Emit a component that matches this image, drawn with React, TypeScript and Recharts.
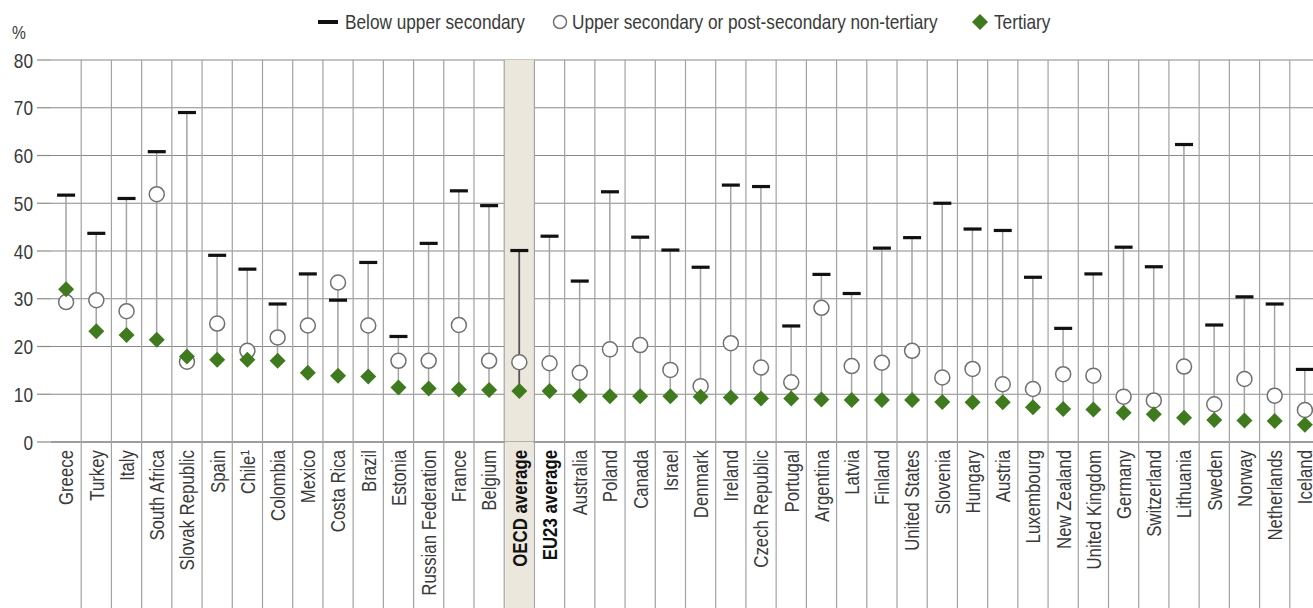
import React from 'react'
import {
  ComposedChart,
  Bar,
  Scatter,
  XAxis,
  YAxis,
  CartesianGrid,
  ReferenceArea,
} from 'recharts'

const categories = [
  'Greece', 'Turkey', 'Italy', 'South Africa', 'Slovak Republic', 'Spain', 'Chile\u00b9',
  'Colombia', 'Mexico', 'Costa Rica', 'Brazil', 'Estonia', 'Russian Federation', 'France',
  'Belgium', 'OECD average', 'EU23 average', 'Australia', 'Poland', 'Canada', 'Israel',
  'Denmark', 'Ireland', 'Czech Republic', 'Portugal', 'Argentina', 'Latvia', 'Finland',
  'United States', 'Slovenia', 'Hungary', 'Austria', 'Luxembourg', 'New Zealand',
  'United Kingdom', 'Germany', 'Switzerland', 'Lithuania', 'Sweden', 'Norway',
  'Netherlands', 'Iceland',
]

const belowUpperSecondary = [
  51.7, 43.7, 51.0, 60.8, 69.0, 39.1, 36.2, 28.9, 35.2, 29.7, 37.6, 22.1, 41.6, 52.6,
  49.5, 40.1, 43.1, 33.7, 52.4, 42.9, 40.2, 36.6, 53.8, 53.5, 24.3, 35.1, 31.1, 40.6,
  42.8, 50.0, 44.6, 44.3, 34.5, 23.8, 35.2, 40.8, 36.7, 62.3, 24.5, 30.4, 28.9, 15.2,
]

const upperSecondary = [
  29.3, 29.7, 27.4, 51.9, 16.8, 24.8, 19.1, 21.9, 24.4, 33.4, 24.4, 17.0, 17.0, 24.5,
  17.0, 16.7, 16.5, 14.5, 19.4, 20.3, 15.1, 11.7, 20.7, 15.6, 12.5, 28.1, 15.9, 16.6,
  19.1, 13.5, 15.3, 12.1, 11.1, 14.2, 13.9, 9.5, 8.7, 15.8, 7.9, 13.2, 9.7, 6.7,
]

const tertiary = [
  32.0, 23.2, 22.4, 21.4, 17.9, 17.2, 17.2, 17.0, 14.5, 13.9, 13.7, 11.4, 11.2, 11.0,
  10.9, 10.7, 10.7, 9.7, 9.6, 9.6, 9.6, 9.5, 9.3, 9.1, 9.1, 8.9, 8.8, 8.8,
  8.8, 8.4, 8.3, 8.3, 7.3, 6.9, 6.8, 6.1, 5.8, 5.1, 4.6, 4.5, 4.4, 3.6,
]

const yTicks = [0, 10, 20, 30, 40, 50, 60, 70, 80]
const highlighted = ['OECD average', 'EU23 average']

const data = categories.map((name, i) => {
  const vals = [belowUpperSecondary[i], upperSecondary[i], tertiary[i]]
  return {
    name,
    below: belowUpperSecondary[i],
    upper: upperSecondary[i],
    tertiary: tertiary[i],
    range: [Math.min(...vals), Math.max(...vals)],
  }
})

const CHART_W = 1320
const CHART_H = 608
const PLOT_TOP = 60
const Y_AXIS_W = 51
// no narrow font installed, so regular sans squeezed horizontally
const FONT = "'Liberation Sans', Arial, sans-serif"
const SQUEEZE = 0.82
const TEXT = '#3a3a3a'
const GREEN = '#3f7a1f'
const SHADE = '#ece7dc'

function CategoryTick(props: any) {
  const { x, y, payload } = props
  const half = payload.offset || (CHART_W - Y_AXIS_W) / categories.length / 2
  const isAvg = highlighted.includes(payload.value)
  return (
    <g>
      {payload.value === 'OECD average' && (
        <rect x={x - half + 1} y={y} width={half * 2 - 2} height={CHART_H - y} fill={SHADE} />
      )}
      <line x1={x + half} x2={x + half} y1={PLOT_TOP} y2={CHART_H} stroke="#a2a2a2" strokeWidth={1.2} />
      <text
        transform={`translate(${x},${y + 8}) rotate(-90) scale(${SQUEEZE},1)`}
        textAnchor="end"
        dy="0.36em"
        fontSize={20.5}
        fontFamily={FONT}
        fontWeight={isAvg ? 700 : 400}
        fill={isAvg ? '#111' : TEXT}
      >
        {payload.value}
      </text>
    </g>
  )
}

function ValueTick(props: any) {
  const { x, y, payload } = props
  return (
    <text
      transform={`translate(${x},${y}) scale(${SQUEEZE},1)`}
      textAnchor="end"
      dy="0.36em"
      fontSize={21}
      fontFamily={FONT}
      fill={TEXT}
    >
      {payload.value}
    </text>
  )
}

function Stem(props: any) {
  const { x, y, width, height, payload } = props
  const cx = x + width / 2
  const dark = payload.name === 'OECD average'
  return (
    <line
      x1={cx}
      x2={cx}
      y1={y}
      y2={y + height}
      stroke={dark ? '#555' : '#a3a3a3'}
      strokeWidth={dark ? 1.8 : 1.5}
    />
  )
}

function DashMark(props: any) {
  const { cx, cy } = props
  return <rect x={cx - 9} y={cy - 1.6} width={18} height={3.2} fill="#111" />
}

function CircleMark(props: any) {
  const { cx, cy } = props
  return <circle cx={cx} cy={cy} r={7.5} fill="#fff" stroke="#707070" strokeWidth={1.5} />
}

function DiamondMark(props: any) {
  const { cx, cy } = props
  const r = 8
  return (
    <polygon
      points={`${cx},${cy - r} ${cx + r},${cy} ${cx},${cy + r} ${cx - r},${cy}`}
      fill={GREEN}
    />
  )
}

const legendText: React.CSSProperties = {
  position: 'absolute',
  top: 9,
  fontFamily: FONT,
  fontSize: 21,
  lineHeight: '26px',
  color: TEXT,
  whiteSpace: 'nowrap',
  transform: `scaleX(${SQUEEZE})`,
  transformOrigin: 'left center',
}

function LegendBar() {
  return (
    <>
      <svg style={{ position: 'absolute', left: 318, top: 10 }} width={20} height={24}>
        <rect x={0} y={10} width={20} height={4} fill="#111" />
      </svg>
      <span style={{ ...legendText, left: 345 }}>Below upper secondary</span>
      <svg style={{ position: 'absolute', left: 552, top: 10 }} width={16} height={24}>
        <circle cx={8} cy={12} r={6.5} fill="#fff" stroke="#707070" strokeWidth={1.5} />
      </svg>
      <span style={{ ...legendText, left: 572 }}>Upper secondary or post-secondary non-tertiary</span>
      <svg style={{ position: 'absolute', left: 972, top: 10 }} width={16} height={24}>
        <polygon points="8,4 16,12 8,20 0,12" fill={GREEN} />
      </svg>
      <span style={{ ...legendText, left: 994 }}>Tertiary</span>
    </>
  )
}

export default function App() {
  return (
    <div
      style={{
        position: 'absolute',
        left: 0,
        top: 0,
        width: 1313,
        height: 608,
        overflow: 'hidden',
        background: '#fff',
      }}
    >
      <LegendBar />
      <div
        style={{
          position: 'absolute',
          left: 12,
          top: 22,
          fontFamily: FONT,
          fontSize: 19,
          color: TEXT,
          transform: `scaleX(${SQUEEZE})`,
          transformOrigin: 'left center',
        }}
      >
        %
      </div>
      <ComposedChart
        width={CHART_W}
        height={CHART_H}
        data={data}
        margin={{ top: PLOT_TOP, right: 0, left: 0, bottom: 0 }}
      >
        <CartesianGrid vertical={false} stroke="#8a8a8a" strokeWidth={1.2} />
        <ReferenceArea
          x1="OECD average"
          x2="OECD average"
          y1={0}
          y2={80}
          fill={SHADE}
          fillOpacity={1}
          stroke="none"
        />
        <XAxis
          dataKey="name"
          interval={0}
          height={CHART_H - 442}
          tick={<CategoryTick />}
          tickLine={false}
          tickSize={0}
          tickMargin={0}
          axisLine={{ stroke: '#777', strokeWidth: 1.2 }}
        />
        <YAxis
          width={Y_AXIS_W}
          domain={[0, 80]}
          ticks={yTicks}
          interval={0}
          axisLine={false}
          tickSize={14}
          tickMargin={4}
          tickLine={{ stroke: '#8a8a8a', strokeWidth: 1.2 }}
          tick={<ValueTick />}
        />
        <Bar dataKey="range" barSize={4} shape={<Stem />} isAnimationActive={false} />
        <Scatter dataKey="upper" shape={<CircleMark />} isAnimationActive={false} />
        <Scatter dataKey="tertiary" shape={<DiamondMark />} isAnimationActive={false} />
        <Scatter dataKey="below" shape={<DashMark />} isAnimationActive={false} />
      </ComposedChart>
    </div>
  )
}
